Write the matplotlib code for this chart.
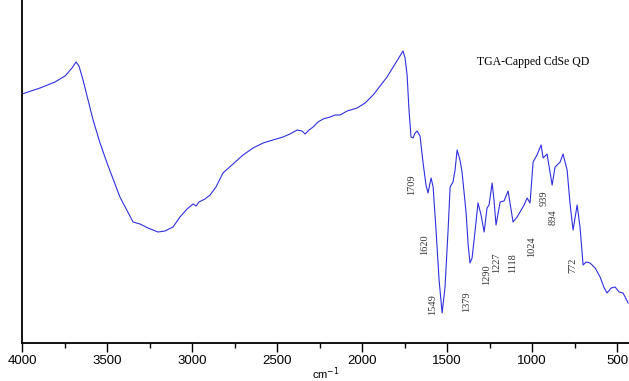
import matplotlib
matplotlib.use("Agg")
import matplotlib.pyplot as plt
from matplotlib.ticker import MultipleLocator

# FTIR spectrum (wavenumber cm^-1, transmittance a.u.)
wavenumber = [4000, 3894, 3806, 3747, 3706, 3682, 3665, 3641, 3582, 3541, 3500, 3424,
              3347, 3306, 3259, 3200, 3159, 3112, 3071, 3029, 2994, 2976, 2959, 2924,
              2894, 2859, 2818, 2759, 2700, 2641, 2582, 2524, 2465, 2424, 2382, 2353,
              2335, 2312, 2288, 2259, 2229, 2188, 2159, 2129, 2088, 2029, 1982, 1935,
              1894, 1853, 1806, 1759, 1747, 1735, 1724, 1712, 1700, 1688, 1676, 1659,
              1641, 1624, 1612, 1594, 1582, 1565, 1547, 1529, 1512, 1494, 1482, 1465,
              1453, 1441, 1424, 1412, 1388, 1376, 1365, 1353, 1341, 1318, 1300, 1282,
              1265, 1253, 1235, 1224, 1212, 1188, 1165, 1141, 1112, 1088, 1071, 1047,
              1029, 1012, 994, 971, 947, 935, 912, 882, 865, 835, 818, 794, 776, 759,
              735, 718, 700, 682, 659, 629, 600, 576, 559, 535, 512, 488, 465, 435]
transmittance = [249, 255, 261, 267, 275, 281, 277, 263, 223, 200, 180, 146,
                 121, 119, 115, 111, 112, 116, 126, 134, 139, 137, 141, 144,
                 148, 156, 170, 179, 188, 195, 200, 203, 206, 209, 213, 212,
                 209, 213, 216, 221, 224, 226, 228, 228, 232, 235, 240, 248,
                 257, 266, 279, 292, 285, 268, 233, 206, 205, 210, 212, 207,
                 180, 158, 150, 165, 156, 113, 63, 30, 56, 113, 156, 161,
                 173, 193, 183, 171, 130, 98, 80, 85, 103, 140, 128, 111,
                 135, 138, 160, 143, 118, 141, 142, 152, 121, 126, 131, 138,
                 145, 140, 181, 188, 198, 185, 189, 158, 176, 181, 189, 173, 138, 113,
                 138, 116, 78, 81, 80, 75, 66, 55, 50, 55, 56, 51, 50, 40]

# Peak annotations: label text, and where the text sits
peak_labels = ["1709", "1620", "1549", "1379", "1290", "1227", "1118", "1024", "939", "894", "772"]
peak_label_x = [1706, 1629, 1582, 1382, 1265, 1206, 1112, 1000, 929, 876, 759]
peak_label_y = [158, 98, 38, 41, 68, 80, 80, 96, 145, 126, 78]

title_text = "TGA-Capped CdSe QD"
x_label = "cm$^{-1}$"

W, H = 629, 381
fig = plt.figure(figsize=(W / 100, H / 100), dpi=100)
ax = fig.add_axes([22 / W, (H - 343) / H, (W - 22) / W, 343 / H])

ax.plot(wavenumber, transmittance, color="#2f2fe0", lw=0.8)

ax.set_xlim(4000, 430)
ax.set_ylim(0, 343)

for s in ["top", "right"]:
    ax.spines[s].set_visible(False)
for s in ["left", "bottom"]:
    ax.spines[s].set_linewidth(1.3)
ax.set_yticks([])
ax.xaxis.set_major_locator(MultipleLocator(500))
ax.xaxis.set_minor_locator(MultipleLocator(250))
ax.tick_params(axis="x", which="major", direction="out", length=6.5, width=1.0, pad=2.5,
               labelsize=9.5)
ax.tick_params(axis="x", which="minor", direction="out", length=3.5, width=1.0)
for lbl in ax.get_xticklabels():
    lbl.set_family("Liberation Sans")

ax.set_xlabel(x_label, fontsize=8, family="Liberation Sans", labelpad=-1.5)

for t, x, y in zip(peak_labels, peak_label_x, peak_label_y):
    ax.text(x, y, t, rotation=90, ha="center", va="center", fontsize=7.5,
            family="Liberation Serif", color="#333333")

fig.text(533 / W, 1 - 62 / H, title_text, ha="center", va="center", fontsize=8.5,
         family="Liberation Serif")

fig.savefig("out.png", dpi=100)
